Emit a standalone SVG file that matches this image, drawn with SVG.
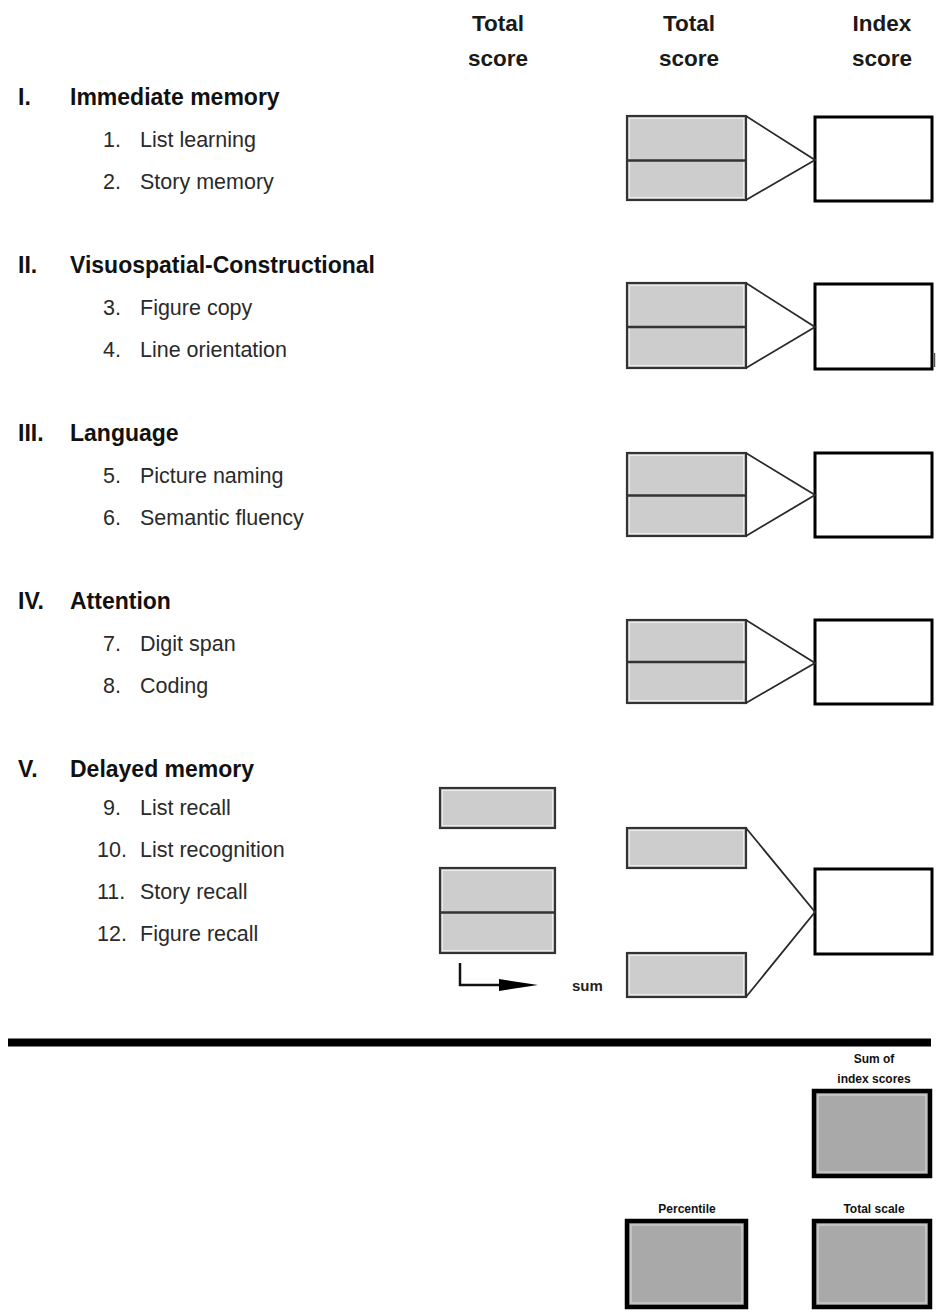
<svg xmlns="http://www.w3.org/2000/svg" width="949" height="1315" viewBox="0 0 949 1315">
<defs>
<style>
text{font-family:"Liberation Sans",Arial,sans-serif;}
.hd{font-size:22.5px;font-weight:bold;fill:#1a1a1a;text-anchor:middle;}
.sec{font-size:23px;font-weight:bold;fill:#111;}
.it{font-size:21.5px;fill:#2a2a2a;}
.gb{fill:#cdcdcd;stroke:#333;stroke-width:2.2;}
.gi{fill:none;stroke:#ececec;stroke-width:1;}
.wb{fill:#fff;stroke:#000;stroke-width:3;}
.db{fill:#a9a9a9;stroke:#000;stroke-width:4.5;}
.di{fill:none;stroke:#d4d4d4;stroke-width:1.2;}
.cn{fill:none;stroke:#2a2a2a;stroke-width:1.8;}
.sm{font-size:12px;font-weight:bold;fill:#111;text-anchor:middle;}
</style>
</defs>
<rect x="0" y="0" width="949" height="1315" fill="#fff"/>

<g id="headers">
<text class="hd" x="498" y="31">Total</text>
<text class="hd" x="498" y="66">score</text>
<text class="hd" x="689" y="31">Total</text>
<text class="hd" x="689" y="66">score</text>
<text class="hd" x="882" y="31">Index</text>
<text class="hd" x="882" y="66">score</text>
</g>

<g id="labels">
<text class="sec" x="18" y="105">I.</text>
<text class="sec" x="70" y="105">Immediate memory</text>
<text class="it" x="103" y="147">1.</text><text class="it" x="140" y="147">List learning</text>
<text class="it" x="103" y="189">2.</text><text class="it" x="140" y="189">Story memory</text>

<text class="sec" x="18" y="273">II.</text>
<text class="sec" x="70" y="273">Visuospatial-Constructional</text>
<text class="it" x="103" y="315">3.</text><text class="it" x="140" y="315">Figure copy</text>
<text class="it" x="103" y="357">4.</text><text class="it" x="140" y="357">Line orientation</text>

<text class="sec" x="18" y="441">III.</text>
<text class="sec" x="70" y="441">Language</text>
<text class="it" x="103" y="483">5.</text><text class="it" x="140" y="483">Picture naming</text>
<text class="it" x="103" y="525">6.</text><text class="it" x="140" y="525">Semantic fluency</text>

<text class="sec" x="18" y="609">IV.</text>
<text class="sec" x="70" y="609">Attention</text>
<text class="it" x="103" y="651">7.</text><text class="it" x="140" y="651">Digit span</text>
<text class="it" x="103" y="693">8.</text><text class="it" x="140" y="693">Coding</text>

<text class="sec" x="18" y="777">V.</text>
<text class="sec" x="70" y="777">Delayed memory</text>
<text class="it" x="103" y="815">9.</text><text class="it" x="140" y="815">List recall</text>
<text class="it" x="97" y="857">10.</text><text class="it" x="140" y="857">List recognition</text>
<text class="it" x="97" y="899">11.</text><text class="it" x="140" y="899">Story recall</text>
<text class="it" x="97" y="941">12.</text><text class="it" x="140" y="941">Figure recall</text>
</g>

<g id="group1">
<rect class="gb" x="627" y="116" width="119" height="84"/>
<rect class="gi" x="629.5" y="118.5" width="114" height="79"/>
<line x1="627" y1="160.5" x2="746" y2="160.5" stroke="#333" stroke-width="2.5"/>
</g>
<g id="index1"><rect class="wb" x="815" y="117" width="117" height="84"/></g>

<g id="group2">
<rect class="gb" x="627" y="283" width="119" height="85"/>
<rect class="gi" x="629.5" y="285.5" width="114" height="80"/>
<line x1="627" y1="327" x2="746" y2="327" stroke="#333" stroke-width="2.5"/>
</g>
<g id="index2"><rect class="wb" x="815" y="284" width="117" height="85"/>
<line x1="934.5" y1="353" x2="934.5" y2="367" stroke="#555" stroke-width="1.5"/></g>

<g id="group3">
<rect class="gb" x="627" y="453" width="119" height="83"/>
<rect class="gi" x="629.5" y="455.5" width="114" height="78"/>
<line x1="627" y1="495.5" x2="746" y2="495.5" stroke="#333" stroke-width="2.5"/>
</g>
<g id="index3"><rect class="wb" x="815" y="453" width="117" height="84"/></g>

<g id="group4">
<rect class="gb" x="627" y="620" width="119" height="83"/>
<rect class="gi" x="629.5" y="622.5" width="114" height="78"/>
<line x1="627" y1="662" x2="746" y2="662" stroke="#333" stroke-width="2.5"/>
</g>
<g id="index4"><rect class="wb" x="815" y="620" width="117" height="84"/></g>

<g id="recall9">
<rect class="gb" x="440" y="788" width="115" height="40"/>
<rect class="gi" x="442.5" y="790.5" width="110" height="35"/>
</g>
<g id="recall11_12">
<rect class="gb" x="440" y="868" width="115" height="85"/>
<rect class="gi" x="442.5" y="870.5" width="110" height="80"/>
<line x1="440" y1="912.5" x2="555" y2="912.5" stroke="#333" stroke-width="2.5"/>
</g>
<g id="recognition10">
<rect class="gb" x="627" y="828" width="119" height="40"/>
<rect class="gi" x="629.5" y="830.5" width="114" height="35"/>
</g>
<g id="sumbox">
<rect class="gb" x="627" y="953" width="119" height="44"/>
<rect class="gi" x="629.5" y="955.5" width="114" height="39"/>
</g>
<g id="index5"><rect class="wb" x="815" y="869" width="117" height="85"/></g>

<g id="sumlabel">
<path d="M460 963 V985 H500" fill="none" stroke="#111" stroke-width="2.5"/>
<polygon points="499,979 538,985 499,991" fill="#000"/>
<text x="572" y="991" style="font-size:15px;font-weight:bold;fill:#222;">sum</text>
</g>

<g id="connectors">
<polyline class="cn" points="746,116 815,160 746,200"/>
<polyline class="cn" points="746,283 815,327 746,368"/>
<polyline class="cn" points="746,453 815,495 746,536"/>
<polyline class="cn" points="746,620 815,663 746,703"/>
<polyline class="cn" points="746,828 815,912 746,997"/>
</g>

<g id="divider"><line x1="8" y1="1042.5" x2="931" y2="1042.5" stroke="#000" stroke-width="8"/></g>

<g id="sumindex">
<text class="sm" x="874" y="1063">Sum of</text>
<text class="sm" x="874" y="1083">index scores</text>
<rect class="db" x="814" y="1091" width="116" height="85"/>
<rect class="di" x="818" y="1095" width="108" height="77"/>
</g>
<g id="percentile">
<text class="sm" x="687" y="1213">Percentile</text>
<rect class="db" x="627" y="1221" width="119" height="86"/>
<rect class="di" x="631" y="1225" width="111" height="78"/>
</g>
<g id="totalscale">
<text class="sm" x="874" y="1213">Total scale</text>
<rect class="db" x="814" y="1221" width="116" height="86"/>
<rect class="di" x="818" y="1225" width="108" height="78"/>
</g>
</svg>
